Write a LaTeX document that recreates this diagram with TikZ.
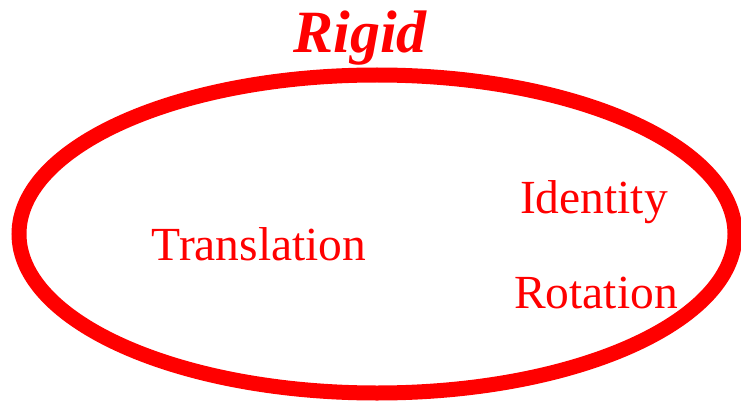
\documentclass[tikz,border=0pt]{standalone}
\usepackage{fontspec}
\setmainfont{Liberation Serif}
\usepackage{tikz}

\begin{document}
\begin{tikzpicture}[x=1pt,y=-1pt,color=red,every node/.style={inner sep=0pt,anchor=base},
  word/.style={font=\fontsize{47.5}{50}\selectfont}]
\useasboundingbox (0,0) rectangle (741,401);
\draw[line width=15pt] (377,234) ellipse [x radius=358, y radius=159];
\node[font=\fontsize{60}{62}\selectfont\bfseries\itshape] (rigid) at (360,53) {Rigid};
\node[word] (trans) at (259,260) {Translation};
\node[word] (ident) at (594,213) {Identity};
\node[word] (rot) at (596,308) {Rotation};
\end{tikzpicture}
\end{document}
